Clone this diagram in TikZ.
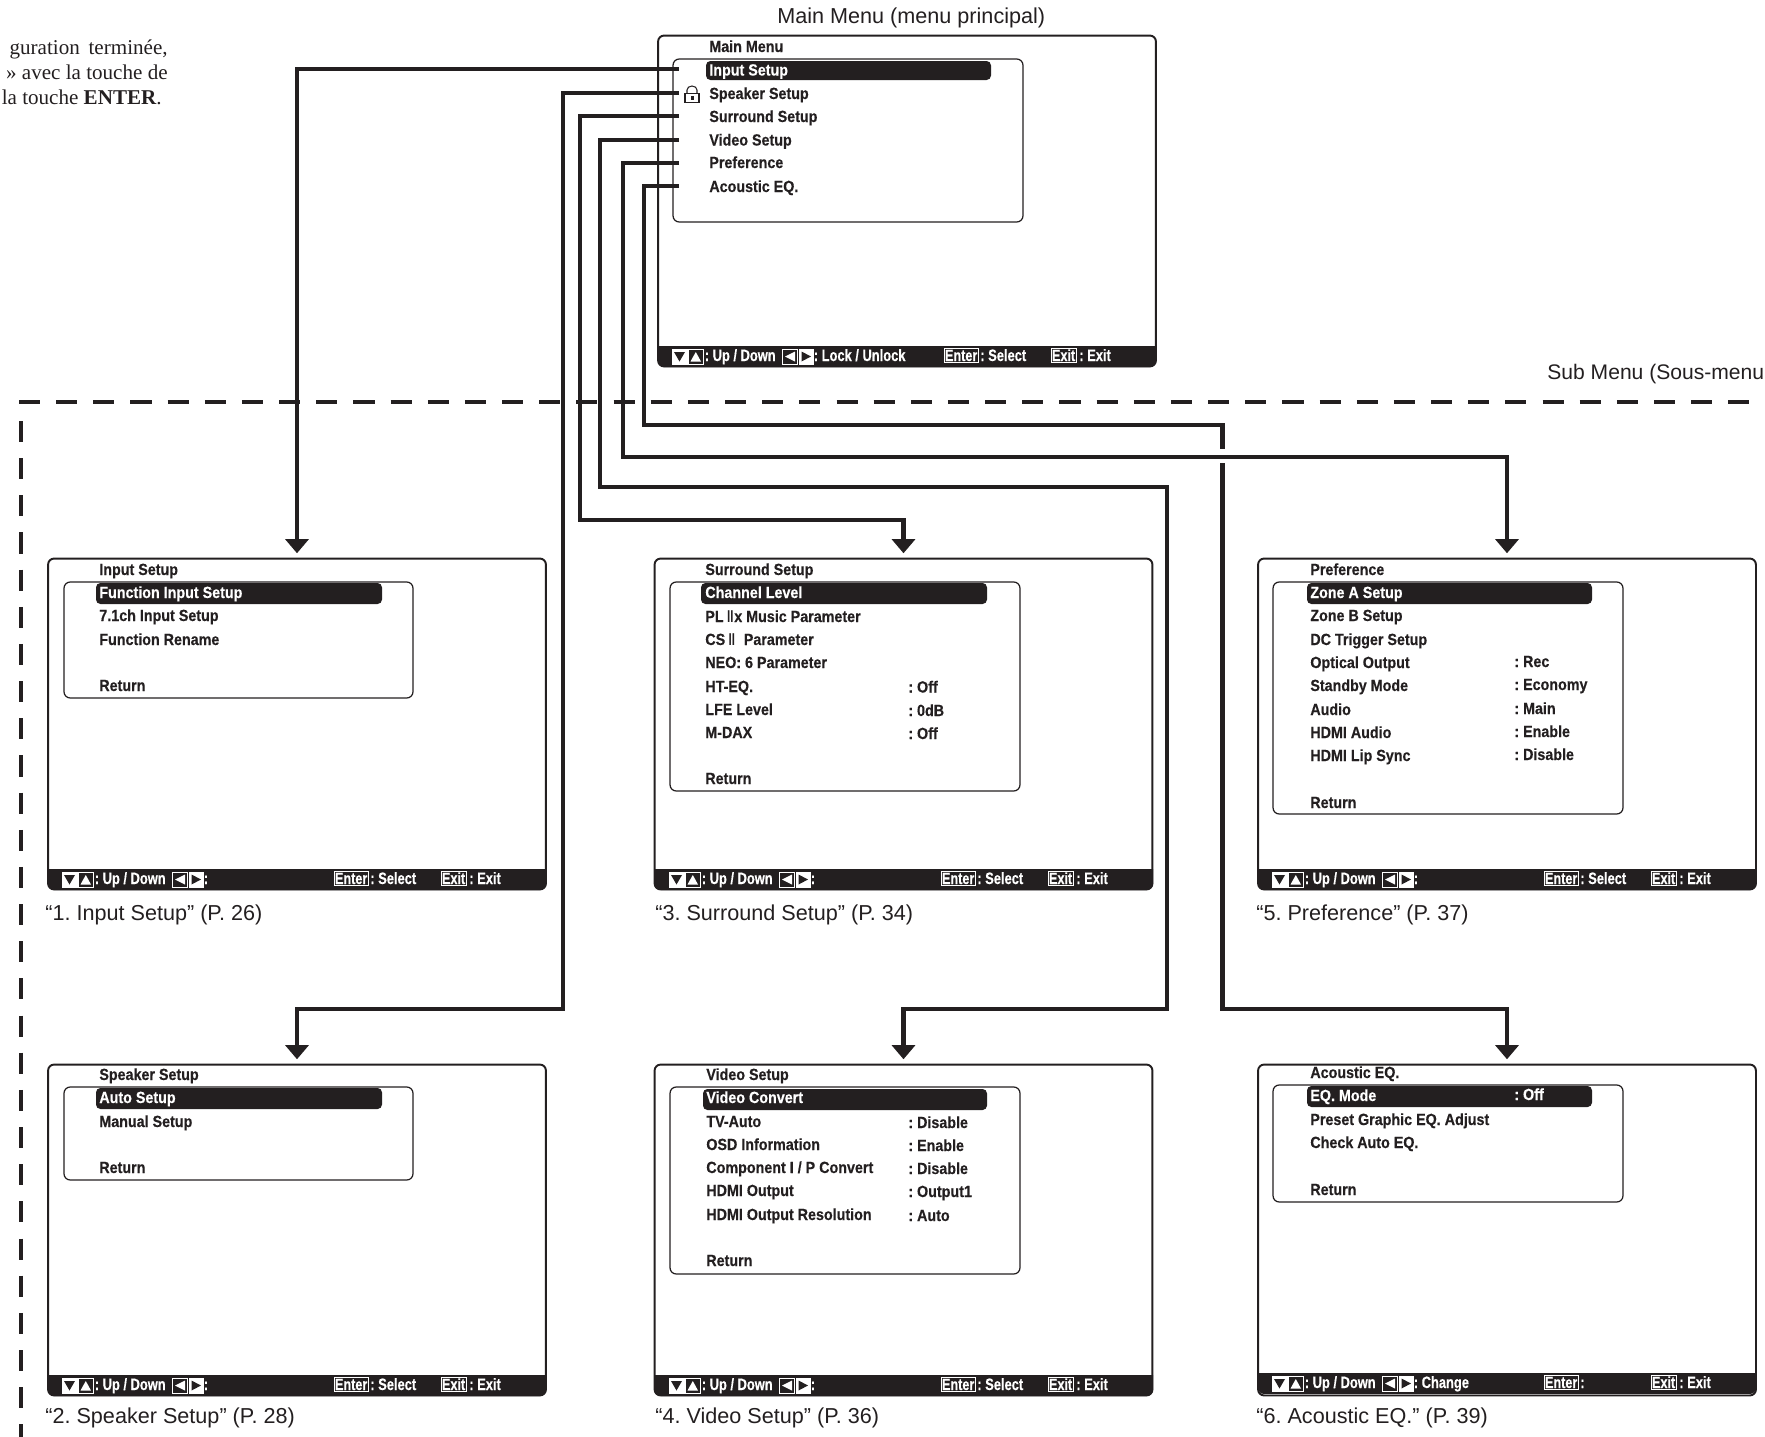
\documentclass[tikz,border=0pt]{standalone}
\usepackage{fontspec}
\setmainfont{Liberation Sans}
\newfontfamily\menufont[FakeStretch=0.885,BoldFeatures={FakeBold=0.35}]{Liberation Sans}
\newfontfamily\hintfont[FakeStretch=0.78,BoldFeatures={FakeBold=0.35}]{Liberation Sans}
\newfontfamily\bookfont{Liberation Serif}
\newfontfamily\romanfont{DejaVu Sans}
\usetikzlibrary{arrows.meta}
\definecolor{ink}{RGB}{35,31,32}
\tikzset{
  screen/.style={draw=ink, line width=1.1pt, rounded corners=3.5pt, minimum width=9.96cm, minimum height=6.62cm, inner sep=0pt, outer sep=0pt},
  pane/.style={draw=ink, line width=0.7pt, rounded corners=3.5pt, inner sep=0pt, outer sep=0pt},
  hilite/.style={fill=ink, rounded corners=2.5pt},
  item/.style={anchor=base west, inner sep=0pt, text=ink, font=\menufont\bfseries\fontsize{9.2}{11}\selectfont},
  itemon/.style={item, text=white},
  keycap/.style={anchor=base west, inner sep=0.6pt, outer sep=0pt, draw=white, line width=0.4pt, text=white, font=\hintfont\bfseries\fontsize{9.2}{10}\selectfont},
  hint/.style={anchor=base west, inner sep=0pt, text=white, font=\hintfont\bfseries\fontsize{9.4}{10}\selectfont},
  caption/.style={anchor=base west, inner sep=0pt, text=ink, font=\fontsize{12.3}{14}\selectfont},
  booktext/.style={anchor=base east, inner sep=0pt, text=ink, font=\bookfont\fontsize{12}{14}\selectfont},
  link/.style={draw=ink, line width=2.5pt, miter limit=10},
  linkto/.style={link, -{Triangle[width=13pt,length=8pt]}, shorten >=3pt},
  frame/.style={draw=ink, line width=2.2pt, dash pattern=on 12pt off 9.15pt},
}
% footer band of a screen: name, left edge, top edge, arrow hint, enter hint
\newcommand{\menufooter}[5]{
  \fill[ink] (#2,#3) -- ({#2+498},#3) [rounded corners=3.5pt] -- ({#2+498},{#3+21}) -- (#2,{#3+21}) [sharp corners] -- cycle;
  \begin{scope}[shift={(#2,#3)}]
    \draw[white, line width=0.4pt, fill=white] (14,3) rectangle (29,18);
    \fill[ink] (16,6) -- (27,6) -- (21.5,15.5) -- cycle;
    \draw[white, line width=0.4pt] (30.5,3) rectangle (45,18);
    \fill[white] (32.5,15.5) -- (43,15.5) -- (37.8,6) -- cycle;
    \draw[white, line width=0.4pt] (124,3) rectangle (139.5,18);
    \fill[white] (137,5.5) -- (137,15.5) -- (127,10.5) -- cycle;
    \draw[white, line width=0.4pt, fill=white] (141,3) rectangle (155,18);
    \fill[ink] (143.5,5.5) -- (143.5,15.5) -- (153,10.5) -- cycle;
    \node[hint] (#1Move) at (46.5,15) {: Up / Down};
    \node[hint] (#1Side) at (155.5,15) {#4};
    \node[keycap] (#1Enter) at (286,15) {Enter};
    \node[hint] (#1Select) at (322,15) {#5};
    \node[keycap] (#1Exit) at (393,15) {Exit};
    \node[hint] (#1Quit) at (421,15) {: Exit};
  \end{scope}
}
\frenchspacing
\begin{document}
\begin{tikzpicture}[x=0.02cm,y=-0.02cm]
\useasboundingbox (0,0) rectangle (1765,1437);
% Text beside the chart
\node[booktext] (noteA) at (168,54.5) {guration\, terminée,};
\node[booktext] (noteB) at (168,79.5) {» avec la touche de};
\node[booktext] (noteC) at (162,104) {la touche \textbf{ENTER}.};
\node[caption] (mainLabel) at (777,23) {Main Menu (menu principal)};
\node[caption, font=\fontsize{12}{14}\selectfont] (subLabel) at (1547,379) {Sub Menu (Sous-menu};
% Sub menu frame
\draw[frame] (19,402) -- (1765,402);
\draw[frame] (21,421) -- (21,1437);
% Main Menu
\node[screen] (boxMain) at (907,201) {};
\node[pane, minimum width=7cm, minimum height=3.26cm] (paneMain) at (848,140.5) {};
\fill[hilite] (706,61) rectangle (991,80);
\menufooter{main}{658}{346}{: Lock / Unlock}{: Select}
\node[item] (mainTitle) at (709,52) {Main Menu};
\node[itemon] (mainInput) at (709,75.5) {Input Setup};
\node[item] (mainSpeaker) at (709,99) {Speaker Setup};
\node[item] (mainSurround) at (709,122) {Surround Setup};
\node[item] (mainVideo) at (709,145.5) {Video Setup};
\node[item] (mainPreference) at (709,168) {Preference};
\node[item] (mainAcoustic) at (709,192) {Acoustic EQ.};
% Lock
\draw[ink, line width=0.6pt] (685,93.3) rectangle (699,102.7);
\draw[ink, line width=0.6pt] (687,93.3) -- (687,90) arc (180:360:5 and 4) -- (697,93.3);
\fill[ink] (691,96.3) rectangle (693.7,100);
% Input Setup
\node[screen] (boxInput) at (297,724) {};
\node[pane, minimum width=6.98cm, minimum height=2.32cm] (paneInput) at (238.5,640) {};
\fill[hilite] (96,583) rectangle (382,604);
\menufooter{input}{48}{869}{:}{: Select}
\node[item] (inputTitle) at (99,575) {Input Setup};
\node[itemon] (inputA) at (99,598) {Function Input Setup};
\node[item] (inputB) at (99,621) {7.1ch Input Setup};
\node[item] (inputC) at (99,645) {Function Rename};
\node[item] (inputD) at (99,691) {Return};
\node[caption] (inputRef) at (45,920) {“1. Input Setup” (P. 26)};
% Speaker Setup
\node[screen] (boxSpeaker) at (297,1230) {};
\node[pane, minimum width=6.98cm, minimum height=1.86cm] (paneSpeaker) at (238.5,1133.5) {};
\fill[hilite] (96,1088) rectangle (382,1109);
\menufooter{speaker}{48}{1375}{:}{: Select}
\node[item] (speakerTitle) at (99,1080) {Speaker Setup};
\node[itemon] (speakerA) at (99,1103) {Auto Setup};
\node[item] (speakerB) at (99,1127) {Manual Setup};
\node[item] (speakerC) at (99,1173) {Return};
\node[caption] (speakerRef) at (45,1423) {“2. Speaker Setup” (P. 28)};
% Surround Setup
\node[screen] (boxSurround) at (903.5,724) {};
\node[pane, minimum width=7cm, minimum height=4.18cm] (paneSurround) at (845,686.5) {};
\fill[hilite] (701,583) rectangle (987,604);
\menufooter{surround}{655}{869}{:}{: Select}
\node[item] (surroundTitle) at (705,575) {Surround Setup};
\node[itemon] (surroundA) at (705,598) {Channel Level};
\node[item] (surroundB) at (705,622) {PL\,{\romanfont\mdseries Ⅱ}x Music Parameter};
\node[item] (surroundC) at (705,645) {CS\,{\romanfont\mdseries Ⅱ}\ \ Parameter};
\node[item] (surroundD) at (705,668) {NEO: 6 Parameter};
\node[item] (surroundE) at (705,692) {HT-EQ.};
\node[item] (surroundF) at (705,715) {LFE Level};
\node[item] (surroundG) at (705,738) {M-DAX};
\node[item] (surroundH) at (705,784) {Return};
\node[item] (surroundEval) at (908,692.5) {: Off};
\node[item] (surroundFval) at (908,716) {: 0dB};
\node[item] (surroundGval) at (908,739) {: Off};
\node[caption] (surroundRef) at (655,920) {“3. Surround Setup” (P. 34)};
% Video Setup
\node[screen] (boxVideo) at (903.5,1230) {};
\node[pane, minimum width=7cm, minimum height=3.74cm] (paneVideo) at (845,1180.5) {};
\fill[hilite] (703,1089) rectangle (987,1110);
\menufooter{video}{655}{1375}{:}{: Select}
\node[item] (videoTitle) at (706,1080) {Video Setup};
\node[itemon] (videoA) at (706,1103) {Video Convert};
\node[item] (videoB) at (706,1127) {TV-Auto};
\node[item] (videoC) at (706,1150) {OSD Information};
\node[item] (videoD) at (706,1173) {Component I / P Convert};
\node[item] (videoE) at (706,1196) {HDMI Output};
\node[item] (videoF) at (706,1220) {HDMI Output Resolution};
\node[item] (videoG) at (706,1266) {Return};
\node[item] (videoBval) at (908,1128) {: Disable};
\node[item] (videoCval) at (908,1151) {: Enable};
\node[item] (videoDval) at (908,1174) {: Disable};
\node[item] (videoEval) at (908,1197) {: Output1};
\node[item] (videoFval) at (908,1221) {: Auto};
\node[caption] (videoRef) at (655,1423) {“4. Video Setup” (P. 36)};
% Preference
\node[screen] (boxPreference) at (1507,724) {};
\node[pane, minimum width=7cm, minimum height=4.64cm] (panePreference) at (1448,698) {};
\fill[hilite] (1307,583) rectangle (1592,604);
\menufooter{preference}{1258}{869}{:}{: Select}
\node[item] (preferenceTitle) at (1310,575) {Preference};
\node[itemon] (preferenceA) at (1310,598) {Zone A Setup};
\node[item] (preferenceB) at (1310,621) {Zone B Setup};
\node[item] (preferenceC) at (1310,645) {DC Trigger Setup};
\node[item] (preferenceD) at (1310,668) {Optical Output};
\node[item] (preferenceE) at (1310,691) {Standby Mode};
\node[item] (preferenceF) at (1310,715) {Audio};
\node[item] (preferenceG) at (1310,738) {HDMI Audio};
\node[item] (preferenceH) at (1310,761) {HDMI Lip Sync};
\node[item] (preferenceI) at (1310,808) {Return};
\node[item] (preferenceDval) at (1514,667) {: Rec};
\node[item] (preferenceEval) at (1514,690) {: Economy};
\node[item] (preferenceFval) at (1514,714) {: Main};
\node[item] (preferenceGval) at (1514,737) {: Enable};
\node[item] (preferenceHval) at (1514,760) {: Disable};
\node[caption] (preferenceRef) at (1256,920) {“5. Preference” (P. 37)};
% Acoustic EQ.
\node[screen] (boxAcoustic) at (1507,1230) {};
\node[pane, minimum width=7cm, minimum height=2.34cm] (paneAcoustic) at (1448,1143.5) {};
\fill[hilite] (1307,1086) rectangle (1592,1107);
\menufooter{acoustic}{1258}{1373}{: Change}{:}
\node[item] (acousticTitle) at (1310,1078) {Acoustic EQ.};
\node[itemon] (acousticA) at (1310,1101) {EQ. Mode};
\node[itemon] (acousticAval) at (1514,1100) {: Off};
\node[item] (acousticB) at (1310,1125) {Preset Graphic EQ. Adjust};
\node[item] (acousticC) at (1310,1148) {Check Auto EQ.};
\node[item] (acousticD) at (1310,1195) {Return};
\node[caption] (acousticRef) at (1256,1423) {“6. Acoustic EQ.” (P. 39)};
% Connectors
\coordinate (portInput) at (679,69);
\coordinate (portSpeaker) at (679,93);
\coordinate (portSurround) at (679,116.3);
\coordinate (portVideo) at (679,140);
\coordinate (portPreference) at (679,163);
\coordinate (portAcoustic) at (679,185.7);
\coordinate (turnSpeaker) at (563,1009);
\coordinate (turnSurround) at (580,520);
\coordinate (turnVideo) at (600,487);
\coordinate (dropVideo) at (1167,1009);
\coordinate (turnPreference) at (623,457);
\coordinate (turnAcoustic) at (644,425);
\coordinate (cutAcoustic) at (1222.5,449);
\coordinate (backAcoustic) at (1222.5,463);
\draw[linkto] (portInput) -| (boxInput.north);
\draw[linkto] (portSpeaker) -| (turnSpeaker) -| (boxSpeaker.north);
\draw[linkto] (portSurround) -| (turnSurround) -| (boxSurround.north);
\draw[linkto] (portVideo) -| (turnVideo) -| (dropVideo) -| (boxVideo.north);
\draw[linkto] (portPreference) -| (turnPreference) -| (boxPreference.north);
\draw[link] (portAcoustic) -| (turnAcoustic) -| (cutAcoustic);
\draw[linkto] (backAcoustic) |- (1507,1009) -- (boxAcoustic.north);
\end{tikzpicture}
\end{document}
